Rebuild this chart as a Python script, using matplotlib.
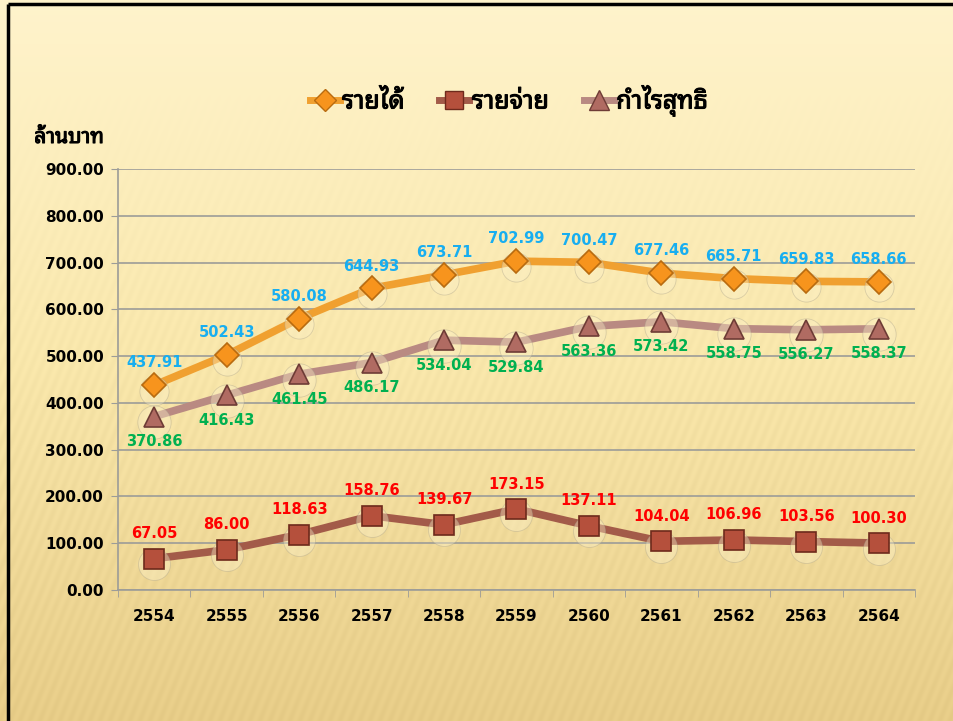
import numpy as np
import matplotlib
matplotlib.use('Agg')
import matplotlib.pyplot as plt
import matplotlib.patheffects as pe
from matplotlib import font_manager
from matplotlib.ft2font import FT2Font
from matplotlib.transforms import offset_copy
from matplotlib.lines import Line2D

# data
years = ['2554', '2555', '2556', '2557', '2558', '2559', '2560', '2561', '2562', '2563', '2564']
revenue = [437.91, 502.43, 580.08, 644.93, 673.71, 702.99, 700.47, 677.46, 665.71, 659.83, 658.66]
expense = [67.05, 86.00, 118.63, 158.76, 139.67, 173.15, 137.11, 104.04, 106.96, 103.56, 100.30]
profit = [370.86, 416.43, 461.45, 486.17, 534.04, 529.84, 563.36, 573.42, 558.75, 556.27, 558.37]
series_names = ['รายได้', 'รายจ่าย', 'กำไรสุทธิ']
y_label = 'ล้านบาท'
y_ticks = [0, 100, 200, 300, 400, 500, 600, 700, 800, 900]


def find_thai_font():
    found = {}
    for f in font_manager.fontManager.ttflist:
        try:
            cmap = FT2Font(f.fname).get_charmap()
        except Exception:
            continue
        if 0x0E23 in cmap and 0x0E49 in cmap:
            found.setdefault(f.name, []).append(f.weight)
    prefs = ['Tahoma', 'Noto Sans Thai Looped', 'Loma', 'Waree', 'Garuda',
             'Noto Sans Thai', 'Noto Sans Thai UI', 'Sarabun', 'Kinnari', 'Norasi',
             'Umpush', 'FreeSans']
    names = [p for p in prefs if p in found] + list(found)
    if not names:
        return None, False
    name = names[0]
    has_bold = any((w if isinstance(w, int) else 700 if w == 'bold' else 400) >= 600
                   for w in found[name])
    return name, has_bold


thai, thai_bold = find_thai_font()
plt.rcParams['font.family'] = ['DejaVu Sans'] + ([thai] if thai else [])
thai_fx = [] if thai_bold else [pe.withStroke(linewidth=0.8, foreground='black')]

fig = plt.figure(figsize=(9.54, 7.21), dpi=100)

# background: cream gradient with faint diagonal stripes
bg = fig.add_axes([0, 0, 1, 1], zorder=-10)
H, W = 721, 954
yy, xx = np.mgrid[0:H, 0:W]
t = yy / H
top = np.array([1.0, 0.955, 0.80])
mid = np.array([0.975, 0.905, 0.67])
bot = np.array([0.905, 0.80, 0.53])
w1 = np.clip(t / 0.5, 0, 1)[..., None]
w2 = np.clip((t - 0.5) / 0.5, 0, 1)[..., None]
img = top + (mid - top) * w1 + (bot - mid) * w2
stripe = 0.011 * np.sin(2 * np.pi * (xx + 0.4 * yy) / 10.0) * np.clip((t - 0.1) * 2.0, 0, 1)
img = np.clip(img + stripe[..., None], 0, 1)
bg.imshow(img, aspect='auto', extent=[0, 1, 0, 1], origin='upper', interpolation='bilinear')
bg.set_xlim(0, 1)
bg.set_ylim(0, 1)
bg.axis('off')
bg.plot([0.008, 1.0], [0.9945, 0.9945], color='black', lw=2.5, solid_capstyle='butt')
bg.plot([0.008, 0.008], [0.0, 0.9945], color='black', lw=2.5, solid_capstyle='butt')

ax = fig.add_axes([0.1237, 0.1817, 0.8354, 0.5839])
ax.patch.set_alpha(0)

x = np.arange(len(years))
grid_c = '#9c9c98'

styles = [
    dict(data=revenue, line='#f0a030', face='#f7941d', edge='#b86b10', marker='D', ms=12,
         lab='#18aef0', dy=16),
    dict(data=expense, line='#a35b49', face='#b5503c', edge='#6e2a1c', marker='s', ms=14,
         lab='#ff0000', dy=18),
    dict(data=profit, line='#b98a82', face='#b06b62', edge='#6e3c36', marker='^', ms=15,
         lab='#00b050', dy=-18),
]

for s in styles:
    ax.plot(x, s['data'], color=s['line'], lw=5.5, zorder=3, solid_capstyle='round')
    glow = offset_copy(ax.transData, fig=fig, x=0, y=-4, units='points')
    ax.plot(x, s['data'], linestyle='none', marker='o', ms=s['ms'] + 9,
            mfc='#fbf0c8', mec='#a8a08a', mew=0.6, alpha=0.4, transform=glow, zorder=3.5)
    ax.plot(x, s['data'], linestyle='none', marker=s['marker'], ms=s['ms'],
            mfc=s['face'], mec=s['edge'], mew=1.2, zorder=4)
    for xi, v in zip(x, s['data']):
        ax.annotate(f'{v:.2f}', (xi, v), xytext=(0, s['dy']), textcoords='offset points',
                    ha='center', va='center', color=s['lab'], fontsize=10.5,
                    fontweight='bold', zorder=5)

ax.set_xlim(-0.5, len(years) - 0.5)
ax.set_ylim(0, 900)
ax.set_yticks(y_ticks)
ax.set_yticklabels([f'{v:.2f}' for v in y_ticks], fontsize=11, fontweight='bold')
ax.set_xticks(x)
ax.set_xticklabels(years, fontsize=11, fontweight='bold')
ax.set_xticks(np.arange(-0.5, len(years), 1), minor=True)
ax.tick_params(axis='x', which='major', length=0, pad=14)
ax.tick_params(axis='x', which='minor', length=5, color=grid_c, direction='out')
ax.tick_params(axis='y', length=5, color=grid_c, direction='out', pad=5)
ax.yaxis.grid(True, color=grid_c, lw=1.2)
ax.set_axisbelow(True)
for side in ['top', 'right']:
    ax.spines[side].set_visible(False)
for side in ['left', 'bottom']:
    ax.spines[side].set_color(grid_c)
    ax.spines[side].set_linewidth(1.2)

fig.text(0.036, 0.81, y_label, fontsize=15, fontweight='bold', ha='left', va='center',
         path_effects=thai_fx)

handles = [Line2D([0], [0], color=s['line'], lw=5, marker=s['marker'], ms=s['ms'] - 1,
                  mfc=s['face'], mec=s['edge']) for s in styles]
leg = fig.legend(handles, series_names, loc='center', bbox_to_anchor=(0.533, 0.86), ncol=3,
                 frameon=False, prop=dict(weight='bold', size=18),
                 handlelength=1.2, handletextpad=0.1, columnspacing=1.4)
for txt in leg.get_texts():
    txt.set_path_effects(thai_fx)

fig.savefig('out.png', dpi=100)
